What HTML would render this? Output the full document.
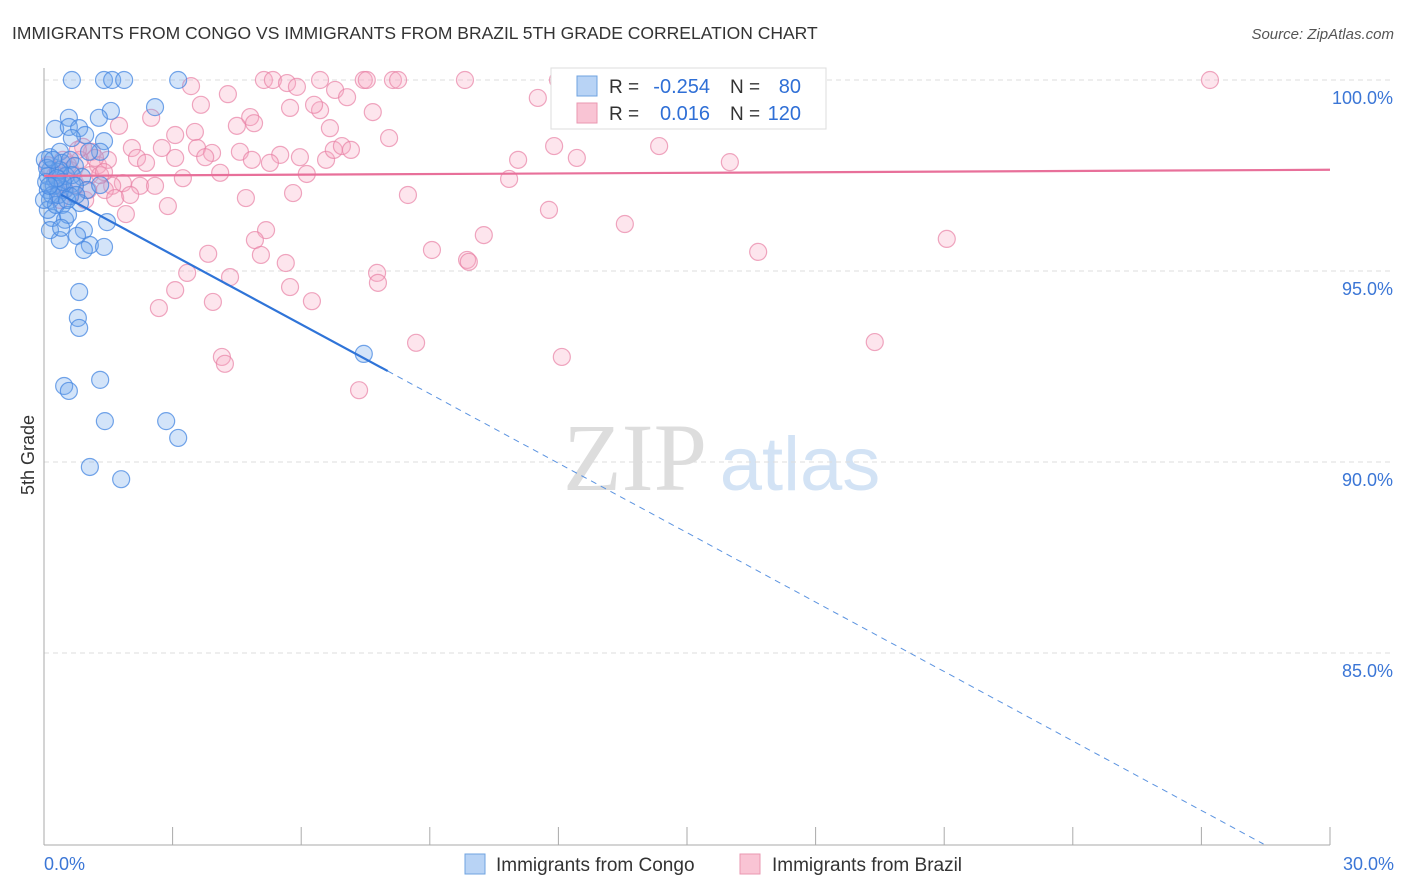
<!DOCTYPE html>
<html><head><meta charset="utf-8"><style>
body{margin:0;background:#fff;font-family:"Liberation Sans",sans-serif}
svg{display:block}
</style></head><body>
<svg id="chart" width="1406" height="892">
<text x="12" y="39" font-size="17.5" fill="#333">IMMIGRANTS FROM CONGO VS IMMIGRANTS FROM BRAZIL 5TH GRADE CORRELATION CHART</text>
<text x="1394" y="39" font-size="15" fill="#555" font-style="italic" text-anchor="end">Source: ZipAtlas.com</text>
<text x="34" y="455" font-size="18" fill="#333" transform="rotate(-90 34 455)" text-anchor="middle">5th Grade</text>
<g>
<text x="635" y="490" font-size="96" fill="#ddd" font-family="Liberation Serif,serif" text-anchor="middle">ZIP</text>
<text x="800" y="490" font-size="76" fill="#d3e3f5" text-anchor="middle">atlas</text>
</g>
<g id="grid"></g><g id="axes"></g><g id="pts"></g><g id="lines"></g>
<g>
<rect x="551" y="68" width="275" height="61" fill="#fff" stroke="#ddd"/>
<rect x="577" y="76" width="20" height="20" fill="#b8d3f5" stroke="#6fa3e0"/>
<rect x="577" y="103" width="20" height="20" fill="#f9c4d4" stroke="#ea97b1"/>
<text x="609" y="93" font-size="19" fill="#333">R =</text>
<text x="710" y="93" font-size="20" fill="#2f6fd6" text-anchor="end">-0.254</text>
<text x="730" y="93" font-size="19" fill="#333">N =</text>
<text x="801" y="93" font-size="20" fill="#2f6fd6" text-anchor="end">80</text>
<text x="609" y="120" font-size="19" fill="#333">R =</text>
<text x="710" y="120" font-size="20" fill="#2f6fd6" text-anchor="end">0.016</text>
<text x="730" y="120" font-size="19" fill="#333">N =</text>
<text x="801" y="120" font-size="20" fill="#2f6fd6" text-anchor="end">120</text>
</g>
<g>
<rect x="465" y="854" width="20" height="20" fill="#b8d3f5" stroke="#6fa3e0"/>
<text x="496" y="871" font-size="19" fill="#333">Immigrants from Congo</text>
<rect x="740" y="854" width="20" height="20" fill="#f9c4d4" stroke="#ea97b1"/>
<text x="772" y="871" font-size="19" fill="#333">Immigrants from Brazil</text>
</g>
</svg>
<script>
const yTicks=[100,95,90,85];
const yTickLabels=["100.0%","95.0%","90.0%","85.0%"];
const xTickLabels=["0.0%","30.0%"];
const congoPx=[[72,80],[104,80],[112,80],[124,80],[178,80],[155,107],[111,111],[99,118],[69,118],[55,129],[69,127],[79,128],[85,135],[72,138],[104,141],[100,152],[89,152],[50,157],[60,152],[62,163],[70,160],[75,166],[50,170],[82,177],[55,180],[60,186],[72,184],[48,190],[64,190],[87,190],[100,185],[50,200],[62,205],[80,203],[52,218],[65,220],[107,222],[84,230],[60,240],[77,236],[90,245],[84,250],[104,247],[79,292],[78,318],[79,328],[364,354],[64,386],[69,391],[100,380],[105,421],[166,421],[178,438],[90,467],[121,479],[58,172],[48,176],[66,176],[54,186],[45,160],[50,230],[48,210],[72,175],[75,186],[52,195],[56,205],[68,215],[60,170],[46,182],[58,195],[70,196],[47,168],[63,182],[53,160],[67,200],[44,200],[57,178],[76,195],[49,186],[61,228]];
const brazilPx=[[191,86],[264,80],[273,80],[287,83],[297,87],[320,80],[364,80],[367,80],[393,80],[398,80],[465,80],[558,80],[612,80],[636,80],[1210,80],[320,110],[335,90],[347,97],[373,112],[538,98],[201,105],[228,94],[250,117],[254,123],[237,126],[151,118],[119,126],[175,135],[195,132],[389,138],[330,128],[290,108],[314,105],[162,148],[132,148],[197,148],[212,153],[240,152],[280,155],[252,160],[270,163],[300,157],[326,160],[334,150],[342,146],[351,150],[518,160],[577,158],[554,146],[659,146],[730,162],[137,158],[146,163],[175,158],[205,157],[92,152],[98,165],[108,160],[83,147],[63,160],[123,183],[112,186],[140,186],[155,186],[183,178],[220,173],[307,174],[509,179],[105,190],[115,198],[130,195],[168,206],[246,198],[293,193],[408,195],[126,214],[549,210],[266,230],[255,240],[625,224],[484,235],[208,254],[261,255],[286,263],[432,250],[467,260],[469,262],[377,273],[378,283],[187,273],[175,290],[230,277],[290,287],[312,301],[213,302],[159,308],[758,252],[947,239],[416,343],[222,357],[225,364],[562,357],[875,342],[359,390],[70,170],[80,160],[90,175],[75,185],[55,175],[65,190],[85,200],[100,175],[60,200],[48,165],[95,158],[78,150],[88,190],[68,165],[58,185],[104,172]];
// convert read pixel positions into data values (% units)
const congoX=congoPx.map(p=>+((p[0]-44)/42.87).toFixed(2));
const congoY=congoPx.map(p=>+(100-(p[1]-80)/38.2).toFixed(2));
const brazilX=brazilPx.map(p=>+((p[0]-44)/42.87).toFixed(2));
const brazilY=brazilPx.map(p=>+(100-(p[1]-80)/38.2).toFixed(2));
const congoTrend=[97.24,-0.606,8.02];
const brazilTrend=[97.49,97.65];
const X0=44,X1=1330,Y100=80,PXY=38.2;
const sx=v=>X0+v*(X1-X0)/30, sy=v=>Y100+(100-v)*PXY;
const NS='http://www.w3.org/2000/svg';
function mk(t,a,p){const e=document.createElementNS(NS,t);for(const k in a)e.setAttribute(k,a[k]);p.appendChild(e);return e;}
const grid=document.getElementById('grid'),axes=document.getElementById('axes'),pts=document.getElementById('pts'),lines=document.getElementById('lines');
yTicks.forEach((t,i)=>{
 const g=mk('line',{x1:X0,x2:1393,y1:sy(t),y2:sy(t),stroke:'#ddd','stroke-dasharray':'5,4'},grid);
 
 
 const l=mk('text',{x:1393,y:sy(t)+24,'font-size':18,fill:'#3b76d6','text-anchor':'end'},axes);
 l.textContent=yTickLabels[i];
 
 
});
const ya=mk('line',{x1:X0,x2:X0,y1:68,y2:845,stroke:'#aaa'},axes);


const xa=mk('line',{x1:X0,x2:X1,y1:845,y2:845,stroke:'#aaa'},axes);


for(let i=0;i<=10;i++){const tk=mk('line',{x1:sx(i*3),x2:sx(i*3),y1:827,y2:845,stroke:'#aaa'},axes);
 
 }
[[0,'start',X0],[1,'end',1394]].forEach(([i,a,x])=>{const t=mk('text',{x:x,y:870,'font-size':18,fill:'#3b76d6','text-anchor':a},axes);t.textContent=xTickLabels[i];
 
 });
brazilX.forEach((x,i)=>{const c=mk('circle',{cx:sx(x),cy:sy(brazilY[i]),r:8.5,fill:'rgba(247,168,195,0.3)',stroke:'rgba(232,130,165,0.7)','stroke-width':1.2},pts);
 
 });
congoX.forEach((x,i)=>{const c=mk('circle',{cx:sx(x),cy:sy(congoY[i]),r:8.5,fill:'rgba(110,165,235,0.3)',stroke:'rgba(70,135,225,0.75)','stroke-width':1.2},pts);
 
 });
const ct=x=>congoTrend[0]+congoTrend[1]*x;
const xEnd=(congoTrend[0]-80)/-congoTrend[1];
const l1=mk('line',{x1:sx(0.4),y1:sy(ct(0.4)),x2:sx(congoTrend[2]),y2:sy(ct(congoTrend[2])),stroke:'#2f74d8','stroke-width':2.2},lines);


const l2=mk('line',{x1:sx(congoTrend[2]),y1:sy(ct(congoTrend[2])),x2:sx(xEnd),y2:sy(80),stroke:'#5b93e0','stroke-width':1,'stroke-dasharray':'6,5'},lines);


const l3=mk('line',{x1:sx(0),y1:sy(brazilTrend[0]),x2:sx(30),y2:sy(brazilTrend[1]),stroke:'#e8709a','stroke-width':2.2},lines);


</script>
</body></html>
